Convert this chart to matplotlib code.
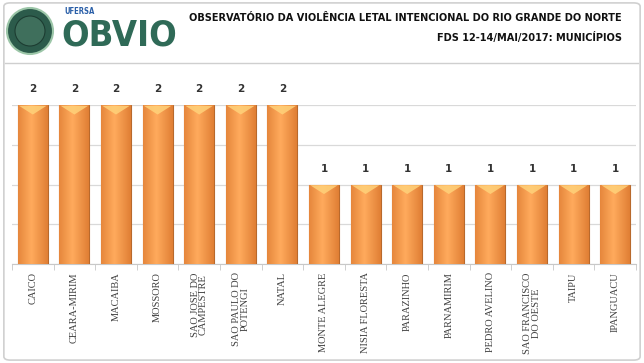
import matplotlib.pyplot as plt
from matplotlib.patches import Ellipse, FancyBboxPatch
from matplotlib.lines import Line2D
from matplotlib.colors import LinearSegmentedColormap
import numpy as np

municipios = ['CAICO', 'CEARA-MIRIM', 'MACAIBA', 'MOSSORO', 'SAO JOSE DO\nCAMPESTRE',
              'SAO PAULO DO\nPOTENGI', 'NATAL', 'MONTE ALEGRE', 'NISIA FLORESTA',
              'PARAZINHO', 'PARNAMIRIM', 'PEDRO AVELINO', 'SAO FRANCISCO\nDO OESTE',
              'TAIPU', 'IPANGUACU']
mortes = [2, 2, 2, 2, 2, 2, 2, 1, 1, 1, 1, 1, 1, 1, 1]

titulo1 = 'OBSERVATÓRIO DA VIOLÊNCIA LETAL INTENCIONAL DO RIO GRANDE DO NORTE'
titulo2 = 'FDS 12-14/MAI/2017: MUNICÍPIOS'

fig = plt.figure(figsize=(6.44, 3.63), dpi=100)

# moldura externa e linha do cabecalho
fig.patches.append(FancyBboxPatch((0.006, 0.008), 0.988, 0.984, boxstyle='round,pad=0,rounding_size=0.01',
                                  transform=fig.transFigure, fill=False, ec='#d0d0d0', lw=1.2))
fig.lines.append(Line2D([0.008, 0.99], [1 - 63 / 363] * 2, transform=fig.transFigure, color='#cfcfcf', lw=1))

# logo aproximado
fig.patches.append(Ellipse((30 / 644, 1 - 31 / 363), 46 / 644, 46 / 363, transform=fig.transFigure,
                           fc='#2c5b4b', ec='#9cc6a8', lw=1.5))
fig.patches.append(Ellipse((30 / 644, 1 - 31 / 363), 30 / 644, 30 / 363, transform=fig.transFigure,
                           fc='#3f6f5c', ec='#1d3d32', lw=0.8))
fig.text(64 / 644, 1 - 12 / 363, 'UFERSA', fontsize=5.5, fontweight='bold', color='#2a5fa8',
         ha='left', va='center', fontstretch='condensed')
fig.text(61 / 644, 1 - 35 / 363, 'OBVIO', fontsize=26, fontweight='bold', color='#2f6a57',
         ha='left', va='center', fontstretch='condensed')

fig.text(622 / 644, 1 - 18 / 363, titulo1, fontsize=7.8, fontweight='bold', ha='right', va='center',
         fontstretch='condensed', color='#111111')
fig.text(622 / 644, 1 - 37 / 363, titulo2, fontsize=7.8, fontweight='bold', ha='right', va='center',
         fontstretch='condensed', color='#111111')

ax = fig.add_axes([12 / 644, 99 / 363, 624 / 644, (264 - 105) / 363])
x = np.arange(len(municipios))
bars = ax.bar(x, mortes, width=0.72, color='#f79a4c', edgecolor='#b8692c', linewidth=0.8, zorder=3)

# gradiente nas barras
grad = np.linspace(0, 1, 64)
grad = 1 - np.abs(grad - 0.45) * 1.4
cmap = LinearSegmentedColormap.from_list('laranja', ['#e07f35', '#ffaa5c'])
for b in bars:
    x0, w, h = b.get_x(), b.get_width(), b.get_height()
    img = ax.imshow(grad[np.newaxis, :], extent=(x0, x0 + w, 0, h), aspect='auto', cmap=cmap, zorder=3.5)
    img.set_clip_path(b)
    ax.fill([x0 + 0.03, x0 + w - 0.03, x0 + w / 2], [h - 0.01, h - 0.01, h - 0.12],
            color='#ffd27a', alpha=0.85, zorder=4, lw=0)
    ax.text(x0 + w / 2, h + 0.2, str(int(h)), ha='center', va='center', fontsize=7.5,
            fontweight='bold', color='#333333', clip_on=False)

ax.set_xlim(-0.5, len(municipios) - 0.5)
ax.set_ylim(0, 2)
ax.set_yticks([0, 0.5, 1, 1.5, 2])
ax.yaxis.grid(True, color='#d9d9d9', lw=0.9, zorder=0)
ax.tick_params(axis='y', left=False, labelleft=False)
for s in ['top', 'right', 'left']:
    ax.spines[s].set_visible(False)
ax.spines['bottom'].set_color('#c8c8c8')

ax.set_xticks(x)
ax.set_xticklabels(municipios, rotation=90, fontsize=7.5, family='Liberation Serif',
                   color='#404040', va='top', ha='center', linespacing=0.9)
ax.tick_params(axis='x', length=0, pad=6)
ax.set_xticks(np.arange(-0.5, len(municipios)), minor=True)
ax.tick_params(axis='x', which='minor', length=4, color='#c8c8c8')

fig.savefig('out.png', dpi=100)
